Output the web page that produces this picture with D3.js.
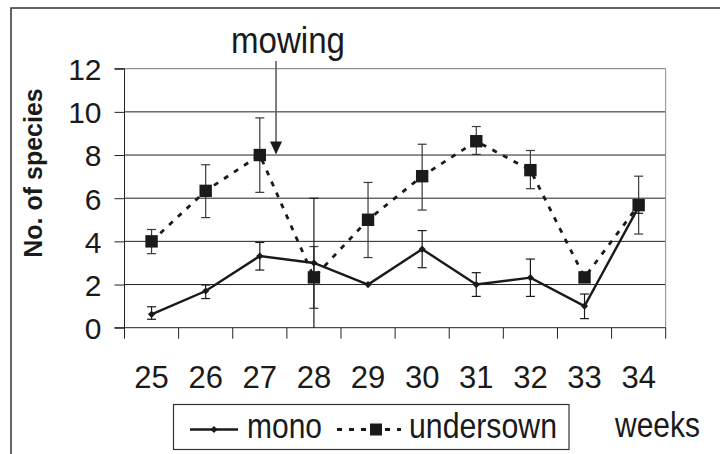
<!DOCTYPE html>
<html>
<head>
<meta charset="utf-8">
<script src="https://cdn.jsdelivr.net/npm/d3@7/dist/d3.min.js"></script>
<style>
  html, body { margin: 0; padding: 0; background: #fff; }
  svg { display: block; font-family: "Liberation Sans", Arial, sans-serif; }
</style>
</head>
<body>
<svg id="chart" width="720" height="454"></svg>
<script>
// Weeks of the season
const weeks = ["25", "26", "27", "28", "29", "30", "31", "32", "33", "34"];

// Species counts, monoculture plots (mean with error range)
const mono   = [0.62, 1.7, 3.32, 3.0, 2.0, 3.64, 2.0, 2.32, 1.0, 5.6];
const monoHi = [0.97, 1.98, 3.95, 6.0, 2.0, 4.5, 2.55, 3.18, 1.56, 5.9];
const monoLo = [0.39, 1.35, 2.67, 0.0, 2.0, 2.78, 1.45, 1.45, 0.42, 5.3];

// Species counts, undersown plots (mean with error range)
const under   = [4.0, 6.34, 8.0, 2.33, 5.0, 7.02, 8.64, 7.3, 2.33, 5.68];
const underHi = [4.55, 7.55, 9.72, 3.76, 6.73, 8.5, 9.32, 8.21, 2.55, 7.02];
const underLo = [3.43, 5.1, 6.27, 0.9, 3.25, 5.45, 8.03, 6.44, 2.1, 4.34];

const yTicks = [0, 2, 4, 6, 8, 10, 12];
const mowingWeek = 27.3; // mowing event, just after week 27

const svg = d3.select("#chart");
const ink = "#1a1a1a";

const pLeft = 124.5, pRight = 665.7, pTop = 68.7, pBottom = 327.7;

const x = d3.scaleBand().domain(weeks).range([pLeft, pRight]).paddingInner(0).paddingOuter(0);
const y = d3.scaleLinear().domain([0, 12]).range([pBottom, pTop]);
const cx = i => x(weeks[i]) + x.bandwidth() / 2;

// outer chart frame
svg.append("rect")
  .attr("x", 11).attr("y", 8).attr("width", 760).attr("height", 500)
  .attr("fill", "none").attr("stroke", "#333").attr("stroke-width", 1.5);

// horizontal gridlines
svg.append("g")
  .selectAll("line")
  .data(yTicks.filter(t => t > 0))
  .join("line")
  .attr("x1", pLeft).attr("x2", pRight)
  .attr("y1", d => y(d)).attr("y2", d => y(d))
  .attr("stroke", d => d === 12 ? "#777" : "#222")
  .attr("stroke-width", 1);

// right edge of plot area
svg.append("line")
  .attr("x1", pRight).attr("x2", pRight).attr("y1", pTop).attr("y2", pBottom)
  .attr("stroke", "#888").attr("stroke-width", 1);

// y axis
const yAxis = d3.axisLeft(y).tickValues(yTicks).tickSize(10).tickPadding(13);
const gy = svg.append("g").attr("transform", `translate(${pLeft},0)`).call(yAxis);
gy.select(".domain").attr("stroke", "#222").attr("d", `M-10,${pTop}H0V${pBottom + 10}`);
gy.selectAll(".tick line").attr("stroke", "#222");
gy.selectAll(".tick text")
  .attr("font-size", 30).attr("fill", ink)
  .attr("font-family", "'Liberation Sans', Arial, sans-serif")
  .attr("dy", "0.36em");

// x axis with ticks on the band boundaries
const xAxis = d3.axisBottom(x).tickSize(0).tickPadding(38);
const gx = svg.append("g").attr("transform", `translate(0,${pBottom})`).call(xAxis);
gx.select(".domain").attr("stroke", "#222").attr("d", `M${pLeft - 10},0H${pRight}`);
gx.selectAll(".tick text")
  .attr("font-size", 31).attr("fill", ink)
  .attr("font-family", "'Liberation Sans', Arial, sans-serif");
gx.selectAll(".bnd")
  .data(weeks.concat(["end"]))
  .join("line")
  .attr("class", "bnd")
  .attr("x1", (d, i) => pLeft + i * x.bandwidth())
  .attr("x2", (d, i) => pLeft + i * x.bandwidth())
  .attr("y1", 0).attr("y2", 11)
  .attr("stroke", "#222");

// y axis title
svg.append("text")
  .attr("transform", "translate(41.5,173) rotate(-90)")
  .attr("text-anchor", "middle")
  .attr("font-weight", "bold")
  .attr("font-size", 25)
  .attr("fill", ink)
  .text("No. of species");

// error bars
function errorBars(lo, hi, color) {
  const g = svg.append("g").attr("stroke", color).attr("stroke-width", 1.2);
  const idx = d3.range(weeks.length).filter(i => hi[i] - lo[i] > 0.01);
  g.selectAll(".v").data(idx).join("line")
    .attr("x1", cx).attr("x2", cx)
    .attr("y1", i => y(lo[i])).attr("y2", i => y(hi[i]));
  g.selectAll(".h").data(idx).join("line")
    .attr("x1", i => cx(i) - 4.5).attr("x2", i => cx(i) + 4.5)
    .attr("y1", i => y(hi[i])).attr("y2", i => y(hi[i]));
  g.selectAll(".l").data(idx.filter(i => lo[i] > 0)).join("line")
    .attr("x1", i => cx(i) - 4.5).attr("x2", i => cx(i) + 4.5)
    .attr("y1", i => y(lo[i])).attr("y2", i => y(lo[i]));
}
errorBars(underLo, underHi, "#3a3a3a");
errorBars(monoLo, monoHi, "#1a1a1a");

const line = d3.line().x((d, i) => cx(i)).y(d => y(d));

// undersown series: dashed line with square markers
svg.append("path")
  .datum(under)
  .attr("d", line)
  .attr("fill", "none")
  .attr("stroke", ink)
  .attr("stroke-width", 2.8)
  .attr("stroke-dasharray", "5,7");

// mono series: solid line with diamond markers
svg.append("path")
  .datum(mono)
  .attr("d", line)
  .attr("fill", "none")
  .attr("stroke", ink)
  .attr("stroke-width", 2.4);

const diamond = s => `M0,${-s}L${s},0L0,${s}L${-s},0Z`;
svg.append("g").selectAll("path")
  .data(mono)
  .join("path")
  .attr("transform", (d, i) => `translate(${cx(i)},${y(d)})`)
  .attr("d", diamond(3.6))
  .attr("fill", ink);

svg.append("g").selectAll("rect")
  .data(under)
  .join("rect")
  .attr("x", (d, i) => cx(i) - 6.2)
  .attr("y", d => y(d) - 6.2)
  .attr("width", 12.4).attr("height", 12.4)
  .attr("fill", ink);

// mowing annotation
const mx = pLeft + (mowingWeek - 25 + 0.5) * x.bandwidth();
svg.append("line")
  .attr("x1", mx).attr("x2", mx)
  .attr("y1", 61).attr("y2", 143)
  .attr("stroke", "#555").attr("stroke-width", 1.5);
svg.append("path")
  .attr("d", `M${mx - 6},141.5L${mx + 6},141.5L${mx},154.5Z`)
  .attr("fill", ink);
svg.append("text")
  .attr("x", 231).attr("y", 53)
  .attr("font-size", 36).attr("fill", ink)
  .attr("textLength", 114).attr("lengthAdjust", "spacingAndGlyphs")
  .text("mowing");

// legend
const lg = svg.append("g");
lg.append("rect")
  .attr("x", 173.5).attr("y", 404.5).attr("width", 395.5).attr("height", 45)
  .attr("fill", "#fff").attr("stroke", "#333").attr("stroke-width", 1.2);
lg.append("line")
  .attr("x1", 190).attr("x2", 238).attr("y1", 429.5).attr("y2", 429.5)
  .attr("stroke", ink).attr("stroke-width", 2.4);
lg.append("path")
  .attr("transform", "translate(214,429.5)")
  .attr("d", diamond(3.6)).attr("fill", ink);
lg.append("text")
  .attr("x", 247).attr("y", 438)
  .attr("font-size", 35).attr("fill", ink)
  .attr("textLength", 75).attr("lengthAdjust", "spacingAndGlyphs")
  .text("mono");
lg.append("line")
  .attr("x1", 337).attr("x2", 401).attr("y1", 429.5).attr("y2", 429.5)
  .attr("stroke", ink).attr("stroke-width", 2.8)
  .attr("stroke-dasharray", "5,7");
lg.append("rect")
  .attr("x", 370).attr("y", 423.5).attr("width", 12).attr("height", 12)
  .attr("fill", ink);
lg.append("text")
  .attr("x", 409).attr("y", 438)
  .attr("font-size", 35).attr("fill", ink)
  .attr("textLength", 148).attr("lengthAdjust", "spacingAndGlyphs")
  .text("undersown");

// x axis unit label
svg.append("text")
  .attr("x", 615).attr("y", 437)
  .attr("font-size", 35).attr("fill", ink)
  .attr("textLength", 85).attr("lengthAdjust", "spacingAndGlyphs")
  .text("weeks");
</script>
</body>
</html>
